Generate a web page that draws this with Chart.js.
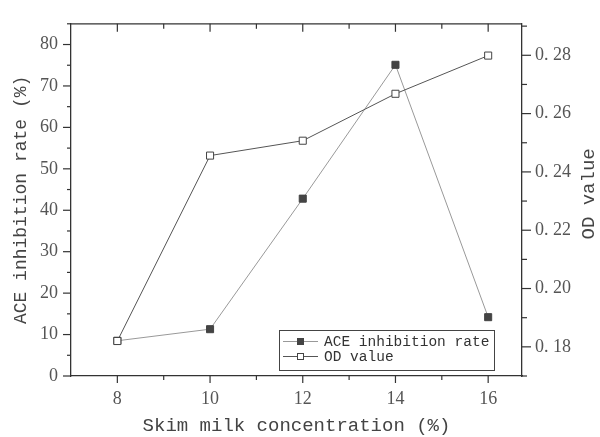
<!DOCTYPE html>
<html>
<head>
<meta charset="utf-8">
<script src="https://cdn.jsdelivr.net/npm/chart.js@4/dist/chart.umd.min.js"></script>
<style>
    html, body { margin: 0; padding: 0; background: #fff; }
</style>
</head>
<body>
<canvas id="graphique" width="600" height="437"></canvas>
<script>
// données : concentration de lait écrémé (%)
var concentrations = [8, 10, 12, 14, 16];
var tauxInhibition = [8.5, 11.3, 42.8, 75.1, 14.2];
var valeursOD = [0.182, 0.2456, 0.2507, 0.2668, 0.2799];

// graduations
var ticksX = [8, 10, 12, 14, 16];
var ticksGauche = [0, 10, 20, 30, 40, 50, 60, 70, 80];
var ticksDroite = [0.18, 0.20, 0.22, 0.24, 0.26, 0.28];

var policeTicks = { family: 'Liberation Serif', size: 18 };
var policeTitre = 'Liberation Mono';

function points(xs, ys) {
    return xs.map(function (x, i) { return { x: x, y: ys[i] }; });
}

function trait(c, x1, y1, x2, y2) {
    c.beginPath();
    c.moveTo(x1, y1);
    c.lineTo(x2, y2);
    c.stroke();
}

// petites graduations + cadre du haut + titre de droite + légende
var cadre = {
    id: 'cadre',
    afterDraw: function (chart) {
        var c = chart.ctx;
        var a = chart.chartArea;
        var sx = chart.scales.x, sy = chart.scales.y, sy2 = chart.scales.y2;
        c.save();
        c.strokeStyle = '#333';
        c.lineWidth = 1.3;
        trait(c, a.left, a.top, a.right, a.top);

        c.lineWidth = 1.2;
        var v, p, maj;
        for (v = 8; v <= 16; v++) {
            p = sx.getPixelForValue(v);
            maj = v % 2 === 0;
            trait(c, p, a.bottom, p, a.bottom + (maj ? 7 : 4));
            trait(c, p, a.top, p, a.top + (maj ? 8 : 5));
        }
        for (v = 0; v <= 85; v += 5) {
            p = sy.getPixelForValue(v);
            maj = v % 10 === 0;
            trait(c, a.left, p, a.left - (maj ? 8 : 4), p);
        }
        for (v = 17; v <= 29; v++) {
            p = sy2.getPixelForValue(v / 100);
            maj = v % 2 === 0;
            trait(c, a.right, p, a.right + (maj ? 9 : 5), p);
        }

        // titre de l'axe de droite (lu de bas en haut)
        c.fillStyle = '#444';
        c.font = '19px ' + policeTitre;
        c.textAlign = 'center';
        c.textBaseline = 'middle';
        c.translate(589, (a.top + a.bottom) / 2 - 6);
        c.rotate(-Math.PI / 2);
        c.fillText('OD value', 0, 0);
        c.restore();

        // légende
        c.save();
        c.strokeStyle = '#444';
        c.lineWidth = 1;
        c.fillStyle = '#fff';
        c.fillRect(279.5, 330.5, 215, 40);
        c.strokeRect(279.5, 330.5, 215, 40);
        c.font = '14.5px ' + policeTitre;
        c.textBaseline = 'middle';
        chart.data.datasets.forEach(function (ds, i) {
            var y = 341.5 + i * 15;
            c.strokeStyle = ds.borderColor;
            trait(c, 283, y, 318, y);
            c.fillStyle = ds.pointBackgroundColor;
            c.fillRect(297.5, y - 3, 6, 6);
            c.strokeStyle = ds.pointBorderColor;
            c.strokeRect(297.5, y - 3, 6, 6);
            c.fillStyle = '#333';
            c.fillText(ds.label, 324, y + 1);
        });
        c.restore();
    }
};

var ctx = document.getElementById('graphique');

var myChart = new Chart(ctx, {
    type: 'line',
    data: {
        datasets: [{
            label: 'ACE inhibition rate',
            data: points(concentrations, tauxInhibition),
            yAxisID: 'y',
            borderColor: '#999',
            borderWidth: 1,
            pointStyle: 'rect',
            pointRadius: 5,
            pointBackgroundColor: '#444',
            pointBorderColor: '#444',
            pointBorderWidth: 1,
            order: 1
        }, {
            label: 'OD value',
            data: points(concentrations, valeursOD),
            yAxisID: 'y2',
            borderColor: '#555',
            borderWidth: 1,
            pointStyle: 'rect',
            pointRadius: 5,
            pointBackgroundColor: '#fff',
            pointBorderColor: '#444',
            pointBorderWidth: 1,
            order: 0
        }]
    },
    options: {
        responsive: false,
        animation: false,
        layout: { padding: { top: 16, left: 0, right: 0, bottom: 0 } },
        plugins: {
            legend: { display: false },
            tooltip: { enabled: false }
        },
        scales: {
            x: {
                type: 'linear',
                position: 'bottom',
                min: 7,
                max: 16.73,
                grid: { display: false, drawTicks: false },
                border: { color: '#333', width: 1.3 },
                afterBuildTicks: function (axis) {
                    axis.ticks = ticksX.map(function (v) { return { value: v }; });
                },
                afterFit: function (axis) { axis.height = 61; },
                ticks: { font: policeTicks, color: '#555', padding: 12, maxRotation: 0 },
                title: {
                    display: true,
                    text: 'Skim milk concentration (%)',
                    font: { family: policeTitre, size: 19 },
                    color: '#444',
                    padding: { top: 0, bottom: 0 }
                }
            },
            y: {
                position: 'left',
                min: 0,
                max: 85,
                grid: { display: false, drawTicks: false },
                border: { color: '#333', width: 1.3 },
                afterBuildTicks: function (axis) {
                    axis.ticks = ticksGauche.map(function (v) { return { value: v }; });
                },
                afterFit: function (axis) { axis.width = 71; },
                ticks: { font: policeTicks, color: '#555', padding: 13 },
                title: {
                    display: true,
                    text: 'ACE inhibition rate (%)',
                    font: { family: policeTitre, size: 18 },
                    color: '#444',
                    padding: { top: 10, bottom: 0 }
                }
            },
            y2: {
                position: 'right',
                min: 0.17,
                max: 0.2908,
                grid: { display: false, drawTicks: false },
                border: { color: '#333', width: 1.3 },
                afterBuildTicks: function (axis) {
                    axis.ticks = ticksDroite.map(function (v) { return { value: v }; });
                },
                afterFit: function (axis) { axis.width = 78; },
                ticks: {
                    font: policeTicks,
                    color: '#555',
                    padding: 13,
                    callback: function (v) { return v.toFixed(2).replace('.', '. '); }
                }
            }
        }
    },
    plugins: [cadre]
});
</script>
</body>
</html>
